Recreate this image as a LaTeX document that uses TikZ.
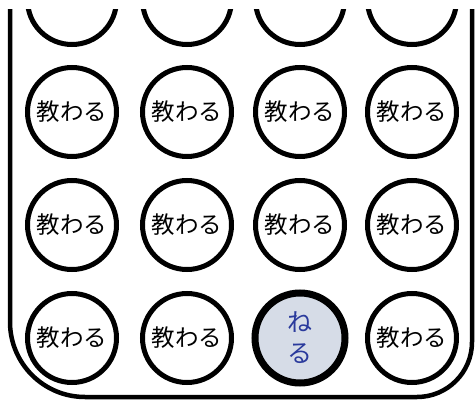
\documentclass[tikz,border=0pt]{standalone}
\usepackage{fontspec}
\newfontfamily\jpfont{Noto Sans CJK JP}
\definecolor{hlfill}{HTML}{D6DCE7}
\definecolor{hltext}{HTML}{2A3A9C}
\tikzset{
  cell/.style={circle, draw=black, line width=5pt, minimum size=89pt, inner sep=0pt, fill=white, font=\jpfont\fontsize{23.5}{26}\selectfont},
  hlcell/.style={circle, draw=black, line width=7pt, minimum size=90pt, inner sep=0pt, fill=hlfill, text=hltext, align=center, font=\jpfont\fontsize{25}{31}\selectfont},
  frame/.style={draw=black, line width=4.5pt}
}
\begin{document}
\begin{tikzpicture}[x=1pt,y=-1pt]
\useasboundingbox (0,0) rectangle (476,401);
\begin{scope}
\clip (0,10) rectangle (476,401);
\draw[frame] (10,0) -- (10,322) .. controls (10,363.4) and (43.6,397) .. (85,397) -- (417,397) .. controls (447.4,397) and (472,372.4) .. (472,342) -- (472,0);
\foreach \cx/\i in {72/1,187/2,300/3,412/4}{
  \node[cell] (r1c\i) at (\cx,0) {};
  \node[cell] (r2c\i) at (\cx,112) {教わる};
  \node[cell] (r3c\i) at (\cx,225) {教わる};
}
\node[cell] (r4c1) at (72,338) {教わる};
\node[cell] (r4c2) at (187,338) {教わる};
\node[hlcell] (r4c3) at (300,338) {ね\\る};
\node[cell] (r4c4) at (412,338) {教わる};
\end{scope}
\end{tikzpicture}
\end{document}
